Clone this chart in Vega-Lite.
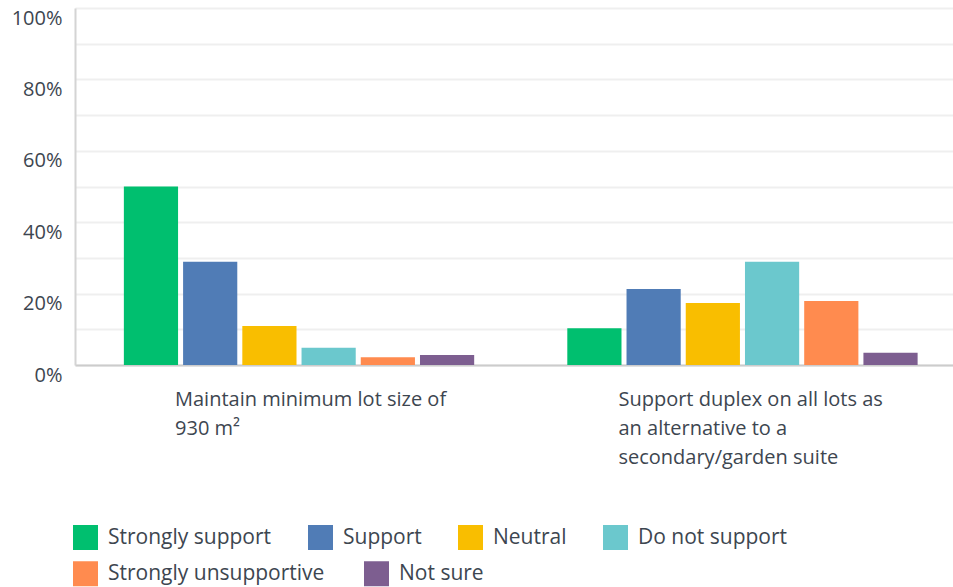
{
  "$schema": "https://vega.github.io/schema/vega-lite/v6.json",
  "width": 878,
  "height": 357,
  "autosize": {"type": "none"},
  "padding": {"left": 75, "top": 8, "right": 0, "bottom": 222},
  "background": "white",
  "data": {
    "values": [
      {"q": "Maintain minimum lot size of 930 m²", "resp": "Strongly support", "pct": 50.0},
      {"q": "Maintain minimum lot size of 930 m²", "resp": "Support", "pct": 28.9},
      {"q": "Maintain minimum lot size of 930 m²", "resp": "Neutral", "pct": 10.9},
      {"q": "Maintain minimum lot size of 930 m²", "resp": "Do not support", "pct": 4.8},
      {"q": "Maintain minimum lot size of 930 m²", "resp": "Strongly unsupportive", "pct": 2.2},
      {"q": "Maintain minimum lot size of 930 m²", "resp": "Not sure", "pct": 2.8},
      {"q": "Support duplex on all lots as an alternative to a secondary/garden suite", "resp": "Strongly support", "pct": 10.3},
      {"q": "Support duplex on all lots as an alternative to a secondary/garden suite", "resp": "Support", "pct": 21.3},
      {"q": "Support duplex on all lots as an alternative to a secondary/garden suite", "resp": "Neutral", "pct": 17.4},
      {"q": "Support duplex on all lots as an alternative to a secondary/garden suite", "resp": "Do not support", "pct": 28.9},
      {"q": "Support duplex on all lots as an alternative to a secondary/garden suite", "resp": "Strongly unsupportive", "pct": 17.9},
      {"q": "Support duplex on all lots as an alternative to a secondary/garden suite", "resp": "Not sure", "pct": 3.4}
    ]
  },
  "mark": {"type": "bar", "strokeWidth": 0},
  "encoding": {
    "x": {
      "field": "q",
      "type": "nominal",
      "sort": null,
      "scale": {"paddingInner": 0.21, "paddingOuter": 0.095, "align": 0.58},
      "axis": {
        "title": null,
        "labelAngle": 0,
        "labelAlign": "left",
        "labelBaseline": "top",
        "labelOffset": -124,
        "labelPadding": 24,
        "labelFontSize": 20,
        "labelLineHeight": 29,
        "labelLimit": 400,
        "labelColor": "#3d4650",
        "labelFont": "Open Sans",
        "ticks": false,
        "domainColor": "#cccccc",
        "domainWidth": 2,
        "labelExpr": "datum.value == 'Maintain minimum lot size of 930 m²' ? ['Maintain minimum lot size of', '930 m²'] : ['Support duplex on all lots as', 'an alternative to a', 'secondary/garden suite']"
      }
    },
    "xOffset": {
      "field": "resp",
      "type": "nominal",
      "sort": ["Strongly support", "Support", "Neutral", "Do not support", "Strongly unsupportive", "Not sure"],
      "scale": {"paddingInner": 0.085, "paddingOuter": 0}
    },
    "y": {
      "field": "pct",
      "type": "quantitative",
      "scale": {"domain": [0, 100], "nice": false},
      "axis": {
        "title": null,
        "values": [0, 10, 20, 30, 40, 50, 60, 70, 80, 90, 100],
        "labelExpr": "datum.value % 20 == 0 ? datum.value + '%' : ''",
        "labelFontSize": 20,
        "labelColor": "#3d4650",
        "labelFont": "Open Sans",
        "labelPadding": 13,
        "labelOffset": 10,
        "ticks": false,
        "domainColor": "#d4d4d4",
        "domainWidth": 2,
        "gridColor": "#efefef",
        "gridWidth": 2
      }
    },
    "fill": {
      "field": "resp",
      "type": "nominal",
      "scale": {
        "domain": ["Strongly support", "Support", "Neutral", "Do not support", "Strongly unsupportive", "Not sure"],
        "range": ["#00bf6f", "#507cb6", "#f9be00", "#6bc8cd", "#ff8b4f", "#7d5e90"]
      },
      "legend": {
        "title": null,
        "orient": "none",
        "legendX": -2,
        "legendY": 517,
        "direction": "horizontal",
        "values": ["Strongly support", "Support", "Neutral", "Do not support"],
        "symbolType": "square",
        "symbolSize": 625,
        "symbolStrokeWidth": 0,
        "symbolOpacity": 1,
        "labelFontSize": 21,
        "labelFont": "Open Sans",
        "labelColor": "#3d4650",
        "labelOffset": 10,
        "columnPadding": 36,
        "labelLimit": 400
      }
    },
    "stroke": {
      "field": "resp",
      "type": "nominal",
      "scale": {
        "domain": ["Strongly unsupportive", "Not sure"],
        "range": ["#ff8b4f", "#7d5e90"]
      },
      "legend": {
        "title": null,
        "orient": "none",
        "legendX": -2,
        "legendY": 553,
        "direction": "horizontal",
        "symbolType": "square",
        "symbolSize": 100,
        "symbolStrokeWidth": 15,
        "symbolOpacity": 1,
        "labelFontSize": 21,
        "labelFont": "Open Sans",
        "labelColor": "#3d4650",
        "labelOffset": 10,
        "columnPadding": 16,
        "labelLimit": 400
      }
    }
  },
  "config": {"view": {"stroke": null}}
}
